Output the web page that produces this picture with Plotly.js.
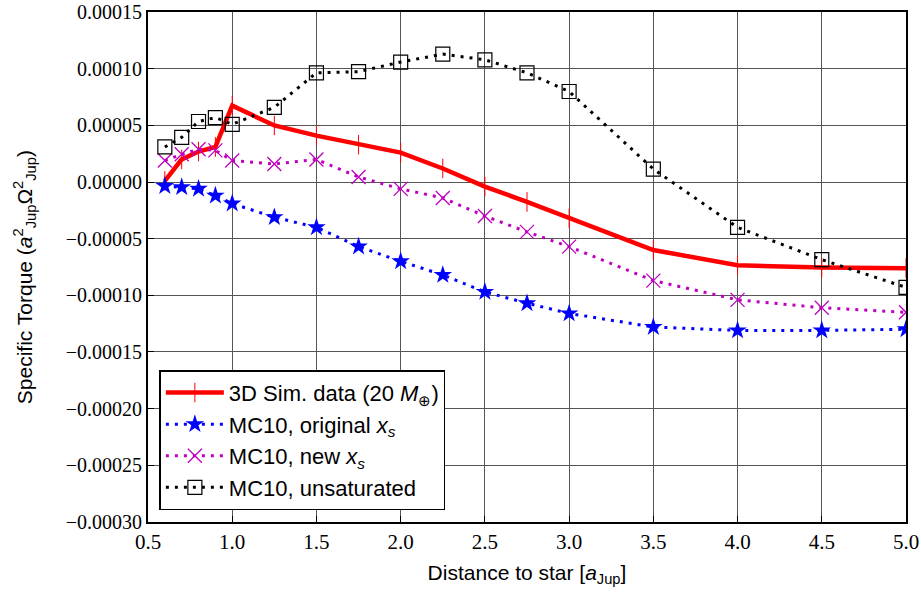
<!DOCTYPE html>
<html><head><meta charset="utf-8">
<script src="https://cdn.plot.ly/plotly-3.0.1.min.js"></script>
<style>html,body{margin:0;padding:0;background:#fff}#plot{width:921px;height:592px}</style>
</head><body><div id="plot"></div>
<script>
const xSim = [0.6,0.7,0.8,0.9,1.0,1.25,1.5,1.75,2.0,2.25,2.5,2.75,3.0,3.5,4.0,4.5,5.0];
const ySim = [0.000001,0.000020,0.000027,0.000031,0.0000675,0.000050,0.000041,0.000033,0.000026,0.000012,-0.000004,-0.0000175,-0.000032,-0.000060,-0.0000735,-0.0000755,-0.000076];
const xMC = [0.6,0.7,0.8,0.9,1.0,1.25,1.5,1.75,2.0,2.25,2.5,2.75,3.0,3.5,4.0,4.5,5.0];
const yOrig = [-0.0000035,-0.0000045,-0.000006,-0.000012,-0.000019,-0.000031,-0.000040,-0.000057,-0.000070,-0.000082,-0.000097,-0.000107,-0.000116,-0.000128,-0.000131,-0.000131,-0.000130];
const yNew = [0.000019,0.0000245,0.000029,0.000028,0.000019,0.000016,0.000020,0.0000045,-0.000006,-0.000014,-0.000030,-0.000044,-0.000057,-0.000087,-0.000104,-0.000111,-0.000115];
const yUnsat = [0.000031,0.0000395,0.0000535,0.000057,0.000051,0.000066,0.0000965,0.0000975,0.000106,0.000113,0.000108,0.0000965,0.000080,0.0000115,-0.000040,-0.0000685,-0.000093];
const xTicks = [0.5,1.0,1.5,2.0,2.5,3.0,3.5,4.0,4.5,5.0];
const yTicks = [0.00015,0.00010,0.00005,0,-0.00005,-0.00010,-0.00015,-0.00020,-0.00025,-0.00030];
const yTitle = 'Specific Torque (<i>a</i><sup>2</sup><sub>Jup</sub>Ω<sup>2</sup><sub>Jup</sub>)';

const dotDash = '3px,6px';
const traces = [
  {x:xSim, y:ySim, name:'3D Sim. data (20 <i>M</i><sub>⊕</sub>)', mode:'lines+markers', legendgroup:'a',
   line:{color:'#ff0000', width:4.5},
   marker:{symbol:'line-ns-open', size:14, color:'#ff0000', line:{color:'#ff0000', width:1}}},
  {x:xMC, y:yOrig, name:'MC10, original <i>x<sub>s</sub></i>', mode:'lines+markers', legendgroup:'b',
   line:{color:'#0000ff', width:3, dash:dotDash},
   marker:{symbol:'star', size:14, color:'#0000ff', line:{width:0}}},
  {x:xMC, y:yNew, name:'MC10, new <i>x<sub>s</sub></i>', mode:'lines+markers', legendgroup:'c',
   line:{color:'#bf00bf', width:3, dash:dotDash},
   marker:{symbol:'x-thin-open', size:14, color:'#bf00bf', line:{color:'#bf00bf', width:1.3}}},
  {x:xMC, y:yUnsat, name:'MC10, unsaturated', mode:'lines+markers', legendgroup:'d',
   line:{color:'#000000', width:3, dash:dotDash},
   marker:{symbol:'square-open', size:14, color:'#000000', line:{color:'#000000', width:1.2}}}
];

const fmt = v => (v<0?'\u2212':'') + Math.abs(v).toFixed(5);
const layout = {
  width:921, height:592,
  margin:{l:148, r:15, t:12, b:70},
  paper_bgcolor:'#fff', plot_bgcolor:'#fff',
  showlegend:true,
  xaxis:{range:[0.5,5.0], tickvals:xTicks, ticktext:xTicks.map(v=>v.toFixed(1)),
    showgrid:true, gridcolor:'#555', gridwidth:1, zeroline:false,
    showline:true, linecolor:'#000', linewidth:2, mirror:true,
    ticks:'inside', ticklen:6, tickcolor:'#000', ticklabeloverflow:'allow',
    tickfont:{family:'Liberation Serif', size:21, color:'#000'},
    title:{text:'Distance to star [<i>a</i><sub>Jup</sub>]', font:{family:'Liberation Sans', size:21, color:'#000'}, standoff:12}},
  yaxis:{range:[-0.0003002,0.0001502], tickvals:yTicks, ticktext:yTicks.map(fmt),
    showgrid:true, gridcolor:'#555', gridwidth:1, zeroline:false,
    showline:true, linecolor:'#000', linewidth:2, mirror:true,
    ticks:'inside', ticklen:6, tickcolor:'#000', ticklabeloverflow:'allow',
    tickfont:{family:'Liberation Serif', size:20, color:'#000'}},
  annotations:[{text:yTitle, xref:'paper', yref:'paper', x:-0.1636, y:0.48,
    xanchor:'center', yanchor:'middle', textangle:-90, showarrow:false,
    font:{family:'Liberation Sans', size:21, color:'#000'}}],
  legend:{x:0.015, y:0.023, xanchor:'left', yanchor:'bottom',
    bgcolor:'#fff', bordercolor:'#000', borderwidth:1.5,
    font:{family:'Liberation Sans', size:22, color:'#000'},
    traceorder:'grouped', tracegroupgap:0,
    itemwidth:58}
};
Plotly.newPlot('plot', traces, layout, {displayModeBar:false, staticPlot:true});
</script></body></html>
